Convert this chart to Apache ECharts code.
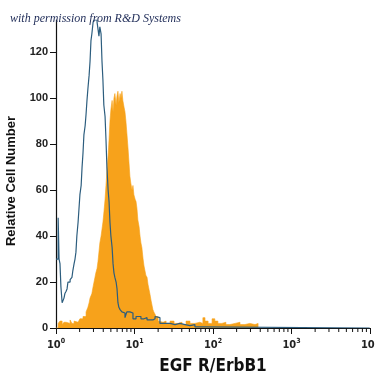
<!DOCTYPE html>
<html><head><meta charset="utf-8">
<script src="https://cdn.jsdelivr.net/npm/echarts@6/dist/echarts.min.js"></script>
<style>html,body{margin:0;padding:0;background:#fff}#c{width:375px;height:375px}</style>
</head><body><div id="c"></div>
<script>
// Channel numbers (1024 channels over 4 decades) and relative cell counts
const isoChannels = [0,7,10,13,16,20,23,26,29,33,36,39,46,52,55,59,62,65,68,72,75,78,82,85,88,91,95,98,101,104,108,111,114,117,121,124,127,130,134,137,140,143,147,150,153,156,160,163,166,170,173,176,179,183,186,189,192,196,199,202,205,209,215,218,225,231,241,251,261,267,277,287,297,306,316,323,329,339,355,372,388,404,421,437,453,469,1023];
const isoCounts   = [30,48,30,28,18,11,11,13,15,16,17,20,21,22,25,28,30,33,40,46,52,58,62,70,76,84,88,93,99,104,110,116,125,128,133,134,134,134,133,130,127,131,128,116,108,97,92,82,70,60,55,46,40,35,28,24,22,20,17,11,9,8,7,6.5,4.5,7,6.5,4,5,5,4,4.5,3.5,3.5,4,5,4.5,2,2,1.5,2,1.5,1,1.5,0.5,0,0];

const egfChannels = [0,7,13,20,26,33,39,46,52,59,65,72,78,88,98,104,108,111,114,117,121,124,127,130,134,137,140,143,147,150,153,156,160,163,166,170,173,176,179,183,186,189,192,196,199,202,205,209,212,215,218,222,225,228,231,235,238,241,244,248,251,254,258,261,264,267,271,274,277,280,284,287,290,293,297,300,303,306,310,313,316,319,323,326,329,333,339,349,359,372,385,398,411,424,437,453,469,479,486,496,509,518,528,541,554,567,584,600,616,632,649,659];
const egfCounts   = [0,2,3,1.5,2.5,3,2,3.5,2,3,2.5,3,4,5,7,9,11,13,14,15,18,20,22,24,26,29,33,37,40,43,46,50,56,62,68,75,82,90,95,99,94,100,102,97,101,103,98,102,100,103,99,96,94,90,85,78,72,66,63,60,62,58,56,55,52,47,44,40,37,35,30,27,25,23,22,19,17,15,12,10,8,7,6,5,5,3,2.5,3,2,3,2,2.5,1.5,3,2,2.5,2,4.5,3,2,4,3,2,2.5,1.5,2,2.5,1.5,2,1.5,2,0];

const xMajorTicks = [1,10,100,1000,10000];
const xMinorTicks = [2,3,4,5,6,7,8,9,20,30,40,50,60,70,80,90,200,300,400,500,600,700,800,900,2000,3000,4000,5000,6000,7000,8000,9000];
const yTicks = [0,20,40,60,80,100,120];
const yMax = 134;

const CHANNELS_PER_DECADE = 256;
function toPairs(ch, counts){ return ch.map((c,i)=>[Math.pow(10, c/CHANNELS_PER_DECADE), counts[i]]); }

const chart = echarts.init(document.getElementById('c'), null, {renderer:'canvas'});
const narrow = '"Liberation Sans Narrow","DejaVu Sans Condensed",Arial,sans-serif';
chart.setOption({
  animation:false,
  backgroundColor:'#fff',
  title:{
    text:'with permission from R&D Systems',
    left:5, top:8,
    textStyle:{fontFamily:'"Liberation Serif","DejaVu Serif",serif',fontStyle:'italic',fontWeight:'normal',fontSize:12,color:'#1e2b57'}
  },
  grid:{left:56,right:5,top:20,bottom:47,outerBoundsMode:'none',containLabel:false},
  xAxis:{
    type:'log', logBase:10, min:1, max:10000,
    name:'EGF R/ErbB1', nameLocation:'middle', nameGap:30,
    nameTextStyle:{fontFamily:narrow,fontWeight:'bold',fontSize:17,color:'#111'},
    axisLine:{lineStyle:{color:'#111',width:1.2}},
    axisTick:{length:6,lineStyle:{color:'#111'}},
    splitLine:{show:false}, minorTick:{show:false},
    axisLabel:{
      margin:10, hideOverlap:false,
      formatter:function(v){ return '{b|10}{s|'+Math.round(Math.log10(v))+'}'; },
      rich:{b:{fontFamily:narrow,fontSize:11,fontWeight:'bold',color:'#222'},
            s:{fontFamily:narrow,fontSize:7,fontWeight:'bold',color:'#222',padding:[0,0,7,0]}}
    }
  },
  yAxis:{
    type:'value', min:0, max:yMax, interval:20,
    name:'Relative Cell Number', nameLocation:'middle', nameGap:38, nameRotate:90,
    nameTextStyle:{fontFamily:'"Liberation Sans",Arial,sans-serif',fontWeight:'bold',fontSize:13,color:'#111',padding:[0,14,0,0]},
    axisLine:{show:true,lineStyle:{color:'#111',width:1.2}},
    axisTick:{show:true,length:6,customValues:yTicks,lineStyle:{color:'#111'}},
    splitLine:{show:false},
    axisLabel:{customValues:yTicks,margin:8,fontFamily:'"Liberation Sans",Arial,sans-serif',fontWeight:'bold',fontSize:11,color:'#222'}
  },
  series:[
    {
      type:'line', step:'end', data:toPairs(egfChannels, egfCounts),
      symbol:'none', lineStyle:{width:0.6,color:'#f7a21b'},
      areaStyle:{color:'#f7a21b',opacity:1}, z:2
    },
    {
      type:'line', step:'end', data:toPairs(isoChannels, isoCounts),
      symbol:'none', lineStyle:{width:1.2,color:'#2c5d7e'}, z:3
    },
    {
      type:'custom', clip:false, silent:true, z:4,
      data:xMinorTicks.map(v=>[v,0]),
      renderItem:function(params, api){
        const p = api.coord([api.value(0), 0]);
        return {type:'line', shape:{x1:p[0],y1:p[1],x2:p[0],y2:p[1]+4}, style:{stroke:'#111',lineWidth:1}};
      }
    }
  ]
});
</script>
</body></html>
